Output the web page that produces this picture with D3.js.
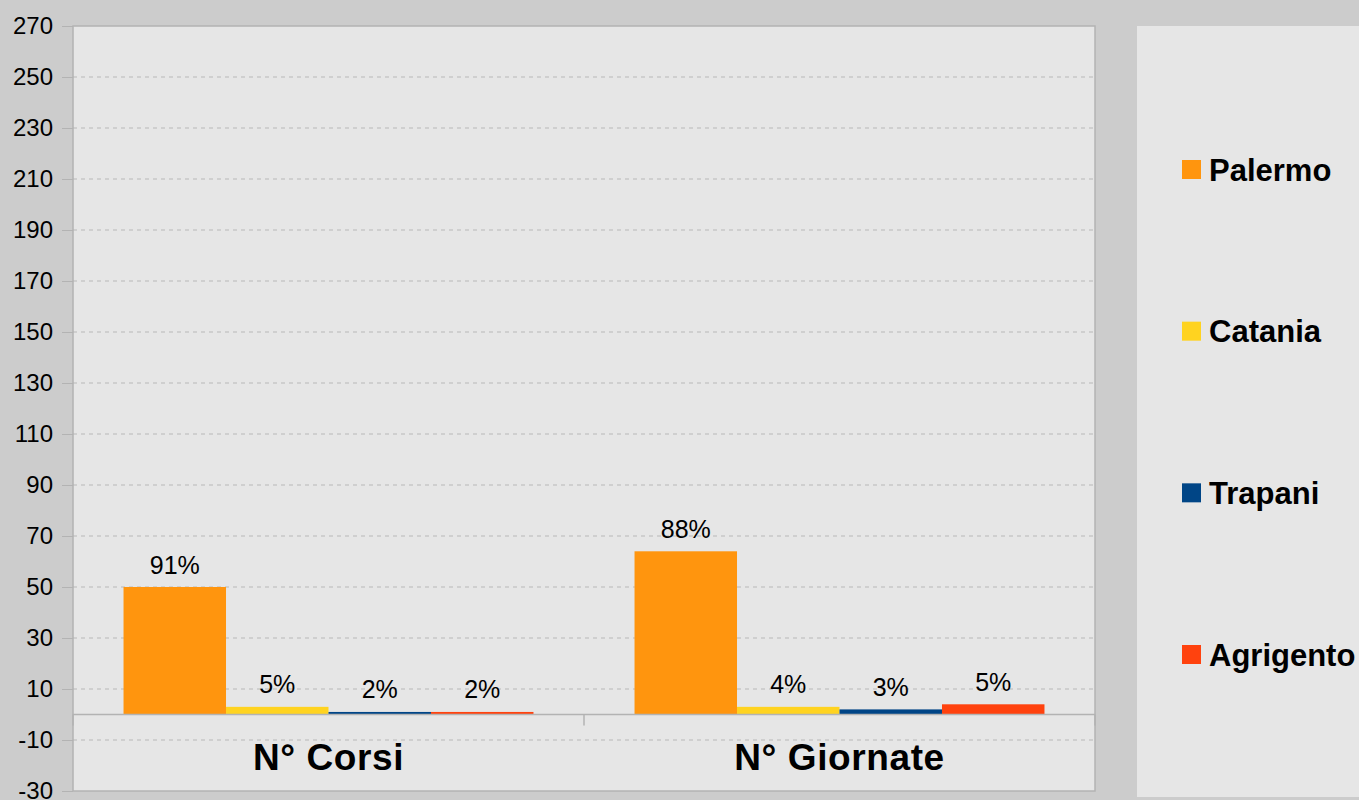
<!DOCTYPE html>
<html><head><meta charset="utf-8">
<script src="https://cdn.jsdelivr.net/npm/d3@7/dist/d3.min.js"></script>
<style>html,body{margin:0;padding:0;background:#cccccc;}svg{display:block;font-family:"Liberation Sans",Arial,sans-serif;}</style>
</head><body>
<svg id="c" width="1359" height="800"></svg>
<script>
const categories = ["N° Corsi", "N° Giornate"];
const series = ["Palermo", "Catania", "Trapani", "Agrigento"];
const colors = ["#ff950e", "#ffd320", "#004586", "#ff420e"];
const valuesCorsi = [50, 3, 1, 1];
const valuesGiornate = [64, 3, 2, 4];
const labelsCorsi = ["91%", "5%", "2%", "2%"];
const labelsGiornate = ["88%", "4%", "3%", "5%"];
const yTicks = [-30, -10, 10, 30, 50, 70, 90, 110, 130, 150, 170, 190, 210, 230, 250, 270];

const values = [valuesCorsi, valuesGiornate];
const labels = [labelsCorsi, labelsGiornate];

const svg = d3.select("#c");
const L = 73, R = 1095, T = 26, B = 791;

svg.append("rect").attr("x",0).attr("y",0).attr("width",1359).attr("height",800).attr("fill","#cccccc");
svg.append("rect").attr("x",L).attr("y",T).attr("width",R-L).attr("height",B-T).attr("fill","#e6e6e6");

const y = d3.scaleLinear().domain([-30, 270]).range([B, T]);
const x0 = d3.scaleBand().domain(categories).range([L, R]).paddingInner(0).paddingOuter(0);
const x1 = d3.scaleBand().domain(series).range([0, x0.bandwidth()]).paddingInner(0).paddingOuter(0.493);

// grid
svg.append("g").selectAll("line").data(yTicks.filter(t => t !== 0 && t !== 270 && t !== -30)).join("line")
  .attr("x1", L).attr("x2", R).attr("y1", d => y(d)).attr("y2", d => y(d))
  .attr("stroke", "#b8b8b8").attr("stroke-width", 1).attr("stroke-dasharray", "4,4");

// y axis
const yAxis = d3.axisLeft(y).tickValues(yTicks).tickSize(11).tickPadding(9).tickFormat(d => String(d));
const gy = svg.append("g").attr("transform", `translate(${L},0)`).call(yAxis);
gy.select(".domain").remove();
gy.selectAll(".tick line").attr("stroke", "#b3b3b3");
gy.selectAll(".tick text").attr("font-size", 24).attr("fill", "#000").attr("font-family", "Liberation Sans, Arial, sans-serif");

// bars
const groups = svg.append("g").selectAll("g").data(categories).join("g")
  .attr("transform", d => `translate(${x0(d)},0)`);
groups.selectAll("rect").data((c, i) => values[i].map((v, j) => ({s: series[j], v, c: colors[j]}))).join("rect")
  .attr("x", d => x1(d.s)).attr("width", x1.bandwidth())
  .attr("y", d => y(d.v)).attr("height", d => y(0) - y(d.v))
  .attr("fill", d => d.c);
groups.selectAll("text").data((c, i) => values[i].map((v, j) => ({s: series[j], v, t: labels[i][j]}))).join("text")
  .attr("x", d => x1(d.s) + x1.bandwidth() / 2).attr("y", d => y(d.v) - 13.5)
  .attr("text-anchor", "middle").attr("font-size", 25).attr("fill", "#000").text(d => d.t);

// zero line + border
svg.append("line").attr("x1", L).attr("x2", R).attr("y1", y(0)).attr("y2", y(0)).attr("stroke", "#b3b3b3").attr("stroke-width", 1.5);
svg.append("rect").attr("x", L).attr("y", T).attr("width", R - L).attr("height", B - T)
  .attr("fill", "none").attr("stroke", "#b3b3b3").attr("stroke-width", 1.5);

// category ticks + labels
const catTicks = [L, x0(categories[1]), R];
svg.append("g").selectAll("line").data(catTicks).join("line")
  .attr("x1", d => d).attr("x2", d => d).attr("y1", y(0)).attr("y2", y(0) + 11)
  .attr("stroke", "#b3b3b3").attr("stroke-width", 1.5);
svg.append("g").selectAll("text").data(categories).join("text")
  .attr("x", d => x0(d) + x0.bandwidth() / 2).attr("y", 770)
  .attr("text-anchor", "middle").attr("font-size", 37).attr("font-weight", "bold")
  .attr("letter-spacing", 0.6).attr("fill", "#000").text(d => d);

// legend
svg.append("rect").attr("x", 1137).attr("y", 26).attr("width", 240).attr("height", 771).attr("fill", "#e6e6e6");
const ly = d3.scalePoint().domain(series).range([169.5, 654.5]);
const lg = svg.append("g").selectAll("g").data(series).join("g")
  .attr("transform", d => `translate(1182,${ly(d)})`);
lg.append("rect").attr("x", 0).attr("y", -9.5).attr("width", 19).attr("height", 19)
  .attr("fill", (d, i) => colors[i]);
lg.append("text").attr("x", 27).attr("y", 11).attr("font-size", 31).attr("font-weight", "bold").attr("fill", "#000").text(d => d);
</script>
</body></html>
